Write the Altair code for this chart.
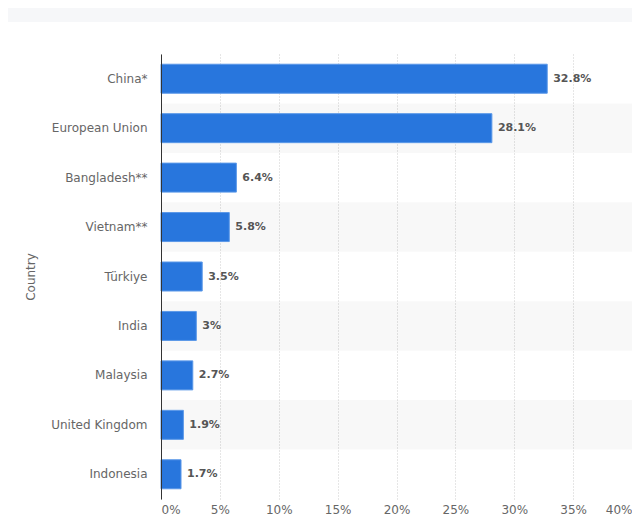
import altair as alt
import pandas as pd

countries = ["China*", "European Union", "Bangladesh**", "Vietnam**", "Türkiye",
             "India", "Malaysia", "United Kingdom", "Indonesia"]
shares = [32.8, 28.1, 6.4, 5.8, 3.5, 3.0, 2.7, 1.9, 1.7]
x_ticks = [0, 5, 10, 15, 20, 25, 30, 35, 40]

df = pd.DataFrame({
    "Country": countries,
    "Share": shares,
    "Label": [f"{v:g}%" for v in shares],
    "Shade": [i % 2 == 1 for i in range(len(countries))],
})

FONT = "DejaVu Sans"
W, H = 471, 445

y_enc = alt.Y("Country:N", sort=countries,
              scale=alt.Scale(paddingInner=0, paddingOuter=0),
              axis=alt.Axis(title="Country", labelColor="#666666", labelFontSize=12,
                            labelFont=FONT, labelPadding=14, ticks=False,
                            domainColor="#333333", domainWidth=1,
                            titleFont=FONT, titleFontSize=12, titleFontWeight="normal",
                            titleColor="#666666", titleX=-131, titleY=H / 2,
                            titleAngle=-90, titleBaseline="middle"))

x_enc = alt.X("Share:Q", scale=alt.Scale(domain=[0, 40], nice=False),
              axis=alt.Axis(values=x_ticks, labelExpr="datum.value + '%'",
                            title=None, ticks=False, domain=False,
                            labelColor="#666666", labelFont=FONT, labelFontSize=12,
                            labelPadding=5, gridColor="#cccccc", gridDash=[1, 2],
                            gridWidth=1))

header = alt.Chart(pd.DataFrame({"k": [0]})).mark_rect(color="#f6f7f9").encode(
    x=alt.value(-160), x2=alt.value(W + 10), y=alt.value(-60), y2=alt.value(-32))

bands = alt.Chart(df).transform_filter("datum.Shade").mark_rect(
    color="#000000", opacity=0.028).encode(
    y=y_enc, x=alt.value(0), x2=alt.value(W + 10))

bars = alt.Chart(df).mark_bar(size=29, color="#2876dd", stroke="#5b98e8",
                              strokeWidth=1).encode(y=y_enc, x=x_enc)

labels = alt.Chart(df).mark_text(align="left", baseline="middle", dx=6,
                                 font=FONT, fontSize=11, fontWeight="bold",
                                 color="#555555").encode(
    y=y_enc, x=x_enc, text="Label:N")

chart = alt.layer(header, bands, bars, labels).properties(
    width=W, height=H,
    autosize=alt.AutoSizeParams(type="none"),
    padding={"left": 153, "top": 46, "right": 0, "bottom": 20},
).configure_view(stroke=None).configure_axisY(grid=False)

chart.save("out.html", embed_options={"renderer": "svg", "actions": False})
